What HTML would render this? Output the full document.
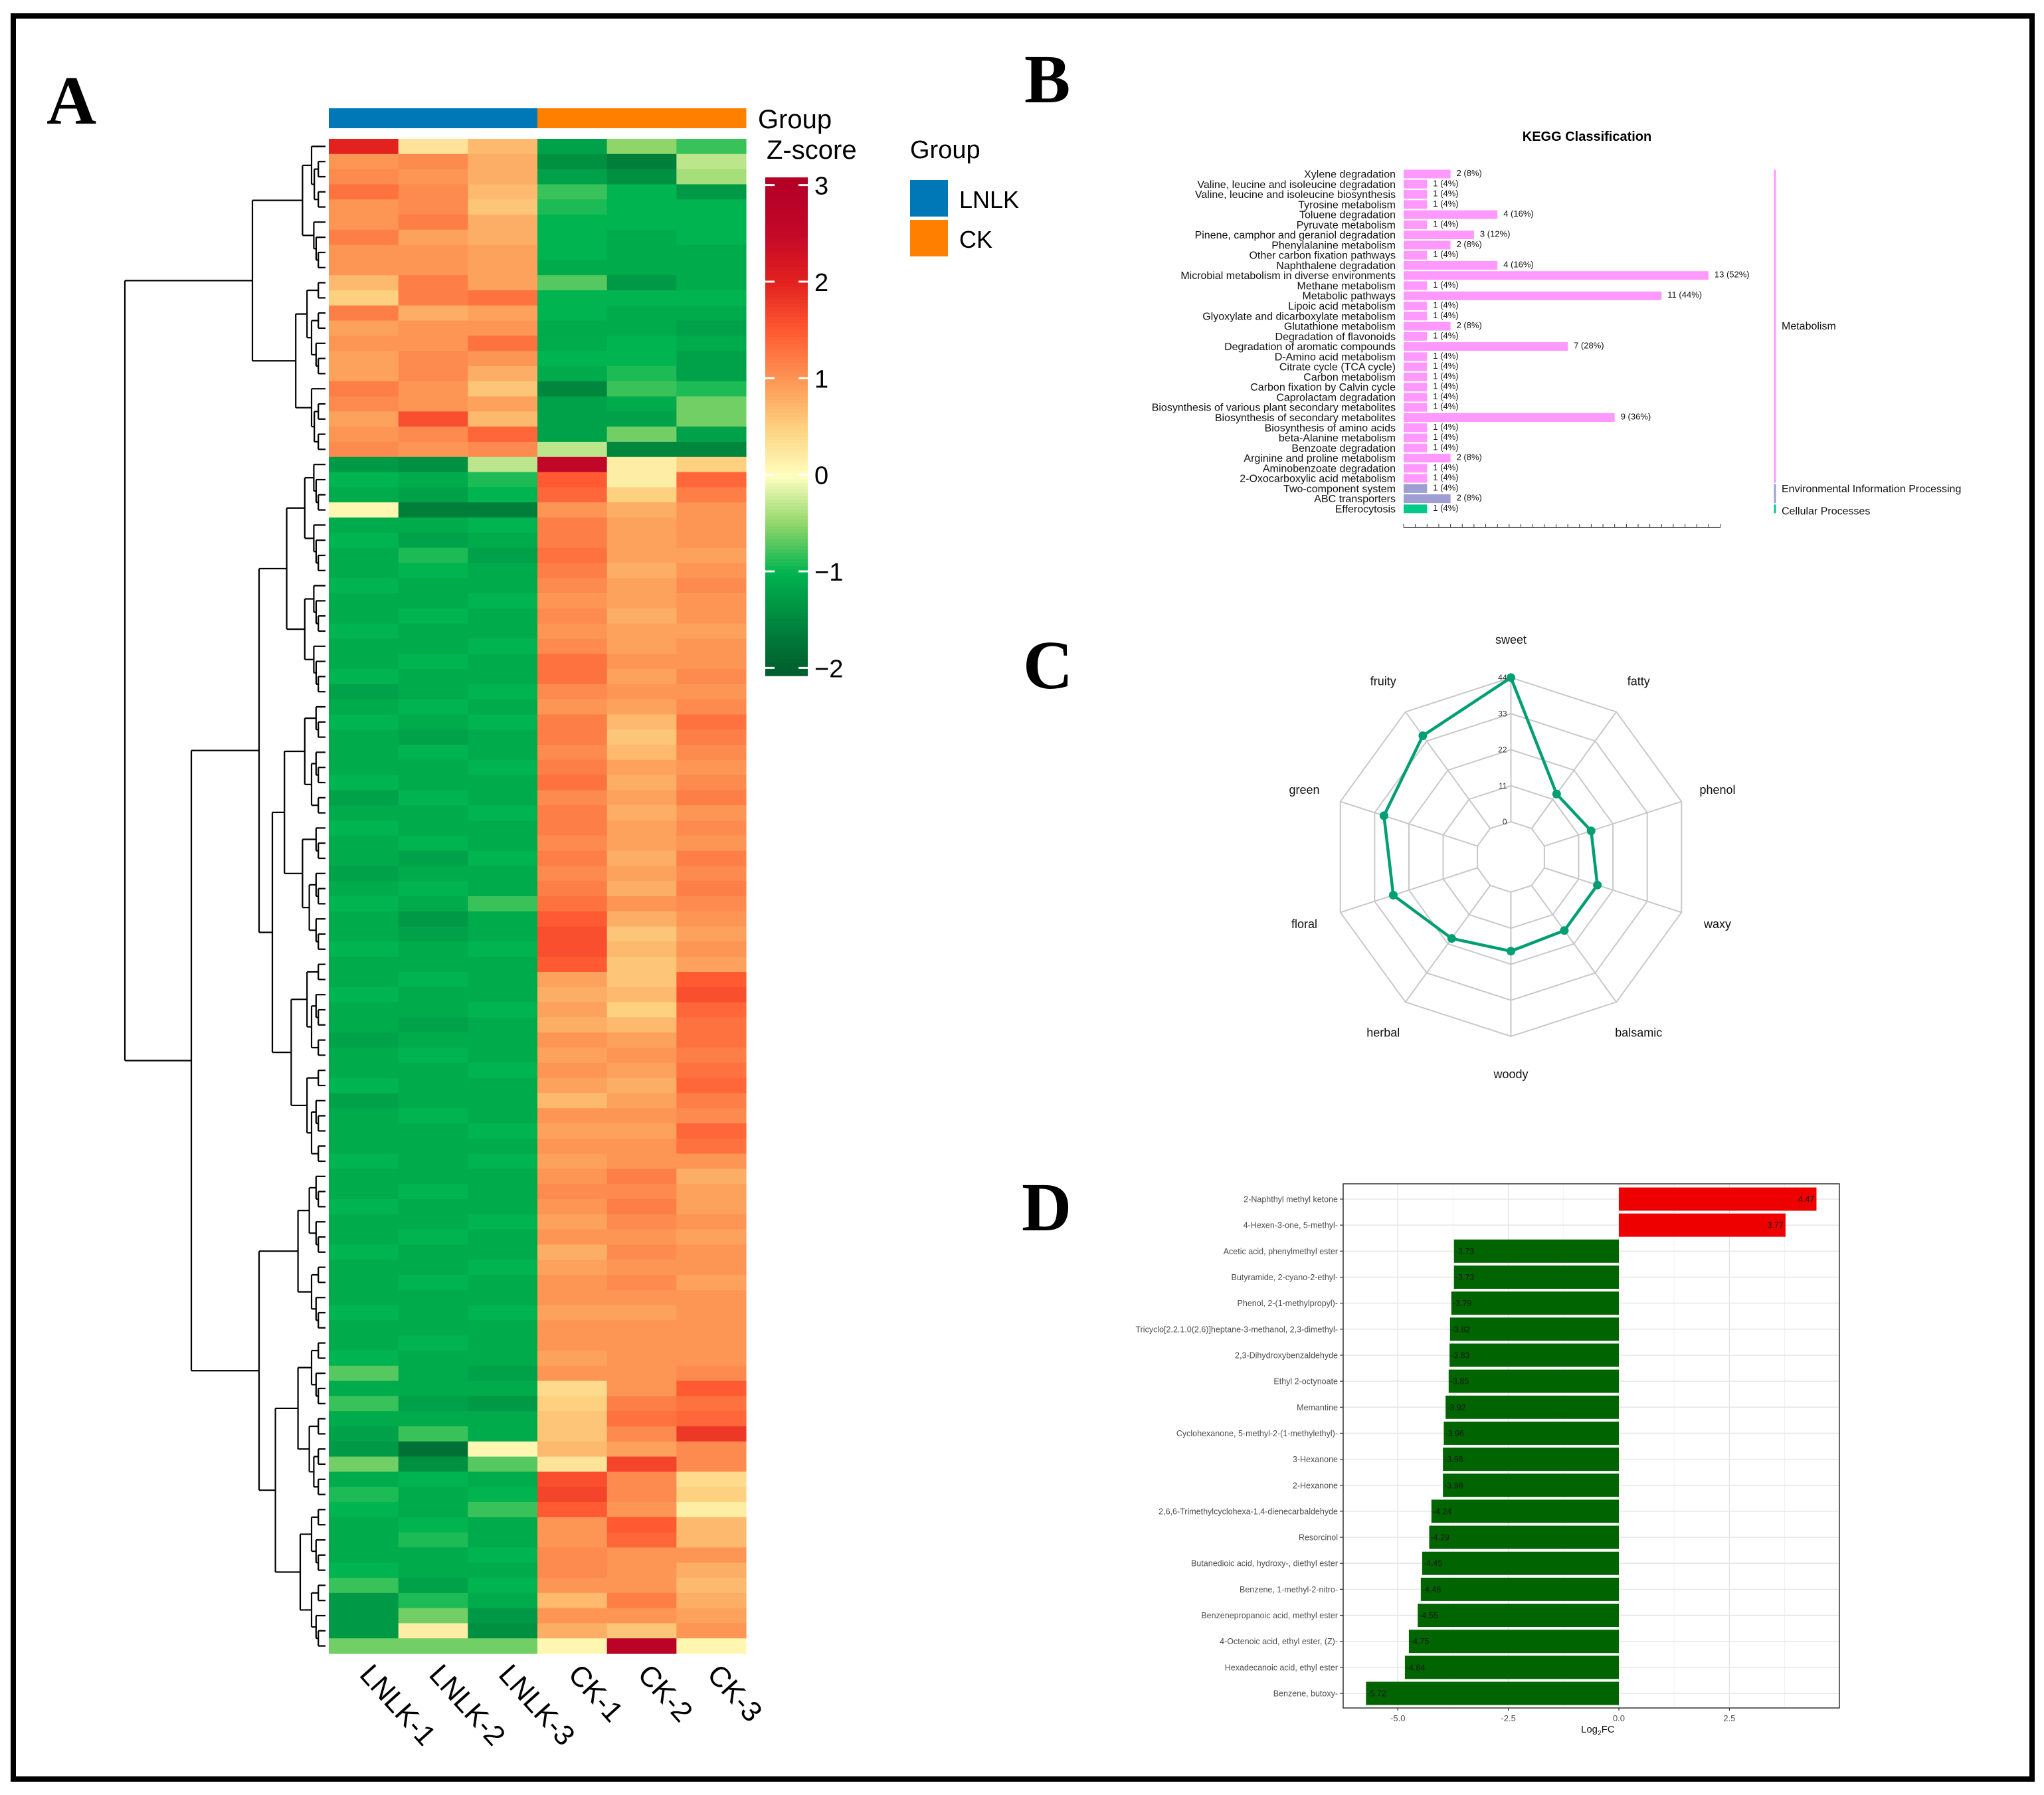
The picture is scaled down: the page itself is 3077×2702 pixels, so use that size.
<!DOCTYPE html>
<html><head><meta charset="utf-8"><style>
html,body{margin:0;padding:0;background:#fff}
svg{display:block}
text{font-family:"Liberation Sans",sans-serif}
.pl{font-family:"Liberation Serif",serif;font-weight:bold;font-size:104px}
</style></head><body>
<svg id="fig" width="3077" height="2702" viewBox="0 0 3077 2702" xmlns="http://www.w3.org/2000/svg">
<rect x="0" y="0" width="3077" height="2702" fill="#fff"/>
<rect x="20" y="24" width="3039" height="2654" fill="none" stroke="#000" stroke-width="8"/>
<text class="pl" x="70" y="186">A</text>
<text class="pl" x="1542" y="154">B</text>
<text class="pl" x="1540" y="1036">C</text>
<text class="pl" x="1538" y="1852">D</text>
<g id="heat"></g>
<g id="kegg"></g>
<g id="radar"></g>
<g id="fc"></g>
</svg>
<script>
// ---------- Heatmap data ----------
const sampleNames = ["LNLK-1","LNLK-2","LNLK-3","CK-1","CK-2","CK-3"];
const sampleGroups = ["LNLK","LNLK","LNLK","CK","CK","CK"];
const colorbarTicks = [3,2,1,0,-1,-2];
const zRows = [
[2.0,0.3,0.7,-1.2,-0.5,-0.8],[1.0,1.1,0.8,-1.4,-1.6,-0.3],[1.1,1.0,0.8,-1.2,-1.4,-0.4],[1.3,1.1,0.7,-0.8,-1.0,-1.3],
[1.0,1.1,0.6,-0.9,-1.0,-1.0],[1.0,1.2,0.8,-1.0,-1.0,-1.0],[1.2,0.9,0.8,-1.0,-1.1,-1.0],[1.0,1.0,0.9,-1.0,-1.1,-1.1],
[1.0,1.0,0.9,-1.1,-1.1,-1.1],[0.7,1.2,0.9,-0.7,-1.3,-1.1],[0.5,1.2,1.3,-1.0,-1.0,-1.0],[1.2,0.8,0.9,-1.0,-1.1,-1.1],
[0.9,1.0,1.0,-1.1,-1.1,-1.2],[1.0,1.0,1.3,-1.1,-1.0,-1.1],[0.9,1.1,1.0,-1.0,-1.0,-1.2],[0.9,1.1,0.8,-1.1,-0.9,-1.2],
[1.2,1.0,0.6,-1.5,-0.8,-0.9],[1.1,1.0,0.9,-1.2,-1.1,-0.6],[0.9,1.6,0.7,-1.2,-1.2,-0.6],[1.0,1.1,1.4,-1.2,-0.6,-1.2],
[1.1,1.0,1.1,-0.3,-1.5,-1.5],
[-1.3,-1.4,-0.3,2.6,0.2,0.5],[-1.0,-1.1,-0.9,1.5,0.2,1.4],[-1.1,-1.2,-1.0,1.4,0.5,1.2],[0.1,-1.6,-1.6,1.0,0.8,1.0],
[-1.1,-1.1,-1.0,1.2,0.9,1.0],[-1.0,-1.2,-1.1,1.2,0.9,1.0],[-1.1,-0.9,-1.2,1.3,0.9,0.9],[-1.1,-1.0,-1.1,1.2,0.8,1.0],
[-1.0,-1.1,-1.1,1.1,0.9,1.1],[-1.1,-1.1,-1.0,1.0,0.9,1.0],[-1.1,-1.0,-1.1,1.1,0.8,1.0],[-1.0,-1.1,-1.1,1.0,0.9,0.9],
[-1.1,-1.1,-1.0,1.1,0.9,1.0],[-1.1,-1.0,-1.1,1.3,1.0,1.0],[-1.0,-1.1,-1.1,1.3,0.9,1.1],[-1.2,-1.1,-1.0,1.1,1.0,1.0],
[-1.1,-1.0,-1.1,1.0,0.9,1.1],[-1.0,-1.1,-1.0,1.2,0.7,1.3],[-1.1,-1.2,-1.1,1.2,0.6,1.2],[-1.1,-1.0,-1.1,1.1,0.7,1.1],
[-1.1,-1.1,-1.0,1.2,0.9,1.0],[-1.0,-1.1,-1.1,1.3,0.8,1.1],[-1.2,-1.0,-1.1,1.1,0.9,1.2],[-1.1,-1.1,-1.0,1.2,0.8,1.0],
[-1.0,-1.1,-1.1,1.2,0.9,1.1],[-1.1,-1.0,-1.1,1.1,0.9,1.0],[-1.1,-1.2,-1.0,1.2,0.8,1.2],[-1.2,-1.1,-1.1,1.1,0.9,1.1],
[-1.1,-1.0,-1.1,1.2,0.8,1.2],[-1.0,-1.1,-0.8,1.3,1.0,1.1],[-1.1,-1.3,-1.1,1.5,0.8,1.0],[-1.1,-1.2,-1.1,1.6,0.6,0.9],
[-1.0,-1.1,-1.0,1.6,0.7,1.0],[-1.1,-1.1,-1.1,1.5,0.6,0.9],[-1.1,-1.0,-1.1,0.9,0.6,1.5],[-1.0,-1.1,-1.1,0.8,0.7,1.6],
[-1.1,-1.1,-1.0,0.9,0.5,1.4],[-1.1,-1.2,-1.1,0.8,0.7,1.3],[-1.2,-1.1,-1.1,1.0,0.9,1.3],[-1.1,-1.0,-1.1,0.9,1.0,1.2],
[-1.1,-1.1,-1.0,1.0,0.9,1.3],[-1.0,-1.1,-1.1,0.9,0.8,1.4],[-1.2,-1.1,-1.1,0.7,0.9,1.2],[-1.1,-1.0,-1.1,1.0,1.0,1.1],
[-1.1,-1.1,-1.0,0.9,0.9,1.4],[-1.1,-1.1,-1.1,1.0,1.0,1.3],[-1.0,-1.1,-1.0,0.9,1.0,1.0],[-1.1,-1.1,-1.1,1.0,1.2,0.8],
[-1.1,-1.0,-1.1,1.1,1.1,0.9],[-1.0,-1.1,-1.1,1.0,1.2,0.9],[-1.1,-1.1,-1.0,0.9,1.1,1.0],[-1.1,-1.0,-1.1,1.0,1.0,0.9],
[-1.0,-1.1,-1.1,0.8,1.1,1.0],[-1.1,-1.1,-1.0,0.9,1.0,1.0],[-1.1,-1.0,-1.1,1.0,1.1,0.9],[-1.1,-1.1,-1.1,1.0,1.0,1.0],
[-1.0,-1.1,-1.0,0.9,0.9,1.0],[-1.1,-1.1,-1.1,1.0,1.0,1.0],[-1.1,-1.0,-1.1,1.0,1.0,1.0],[-1.0,-1.1,-1.1,0.9,1.0,1.0],
[-0.7,-1.1,-1.2,1.0,1.0,1.1],[-1.1,-1.1,-1.1,0.4,1.0,1.5],[-0.8,-1.2,-1.3,0.5,1.2,1.3],[-1.1,-1.1,-1.1,0.6,1.3,1.4],
[-1.2,-0.8,-1.1,0.6,1.1,1.8],[-1.3,-1.8,0.1,0.7,0.9,1.1],[-0.6,-1.4,-0.7,0.3,1.7,1.1],[-1.1,-1.0,-1.1,1.6,1.1,0.4],
[-0.9,-1.1,-1.0,1.7,1.1,0.5],[-1.0,-1.1,-0.8,1.5,1.0,0.2],[-1.1,-1.0,-1.1,1.0,1.5,0.7],[-1.1,-0.9,-1.1,1.0,1.4,0.7],
[-1.1,-1.1,-1.0,1.1,1.0,1.0],[-1.0,-1.1,-1.1,1.1,1.0,0.8],[-0.8,-1.2,-1.0,1.0,1.0,0.7],[-1.3,-0.9,-1.1,0.7,1.2,0.8],
[-1.3,-0.6,-1.3,1.0,1.0,0.9],[-1.3,0.2,-1.4,0.8,0.6,1.0],[-0.6,-0.6,-0.6,0.1,2.8,0.1]
];
const topClusterSize = 21;

// ---------- KEGG data ----------
const keggTerms = ["Xylene degradation","Valine, leucine and isoleucine degradation","Valine, leucine and isoleucine biosynthesis","Tyrosine metabolism","Toluene degradation","Pyruvate metabolism","Pinene, camphor and geraniol degradation","Phenylalanine metabolism","Other carbon fixation pathways","Naphthalene degradation","Microbial metabolism in diverse environments","Methane metabolism","Metabolic pathways","Lipoic acid metabolism","Glyoxylate and dicarboxylate metabolism","Glutathione metabolism","Degradation of flavonoids","Degradation of aromatic compounds","D-Amino acid metabolism","Citrate cycle (TCA cycle)","Carbon metabolism","Carbon fixation by Calvin cycle","Caprolactam degradation","Biosynthesis of various plant secondary metabolites","Biosynthesis of secondary metabolites","Biosynthesis of amino acids","beta-Alanine metabolism","Benzoate degradation","Arginine and proline metabolism","Aminobenzoate degradation","2-Oxocarboxylic acid metabolism","Two-component system","ABC transporters","Efferocytosis"];
const keggCounts = [2,1,1,1,4,1,3,2,1,4,13,1,11,1,1,2,1,7,1,1,1,1,1,1,9,1,1,1,2,1,1,1,2,1];
const keggClass = ["M","M","M","M","M","M","M","M","M","M","M","M","M","M","M","M","M","M","M","M","M","M","M","M","M","M","M","M","M","M","M","E","E","C"];
const keggTotal = 25;

// ---------- Radar data ----------
const odorNames = ["sweet","fatty","phenol","waxy","balsamic","woody","herbal","floral","green","fruity"];
const odorCounts = [44,13,15,17,17,18,20,27,30,35];
const radarTicks = [0,11,22,33,44];

// ---------- Log2FC data ----------
const compounds = ["2-Naphthyl methyl ketone","4-Hexen-3-one, 5-methyl-","Acetic acid, phenylmethyl ester","Butyramide, 2-cyano-2-ethyl-","Phenol, 2-(1-methylpropyl)-","Tricyclo[2.2.1.0(2,6)]heptane-3-methanol, 2,3-dimethyl-","2,3-Dihydroxybenzaldehyde","Ethyl 2-octynoate","Memantine","Cyclohexanone, 5-methyl-2-(1-methylethyl)-","3-Hexanone","2-Hexanone","2,6,6-Trimethylcyclohexa-1,4-dienecarbaldehyde","Resorcinol","Butanedioic acid, hydroxy-, diethyl ester","Benzene, 1-methyl-2-nitro-","Benzenepropanoic acid, methyl ester","4-Octenoic acid, ethyl ester, (Z)-","Hexadecanoic acid, ethyl ester","Benzene, butoxy-"];
const log2fc = [4.47,3.77,-3.73,-3.73,-3.79,-3.82,-3.83,-3.85,-3.92,-3.96,-3.98,-3.98,-4.24,-4.29,-4.45,-4.48,-4.55,-4.75,-4.84,-5.72];
const fcTicks = [-5.0,-2.5,0.0,2.5];

const NS = "http://www.w3.org/2000/svg";
function mk(parent, tag, attrs, txt){
  const e = document.createElementNS(NS, tag);
  for (const k in attrs) e.setAttribute(k, attrs[k]);
  if (txt !== undefined) e.textContent = txt;
  parent.appendChild(e);
  return e;
}

// ===== Heatmap =====
(function(){
  const g = document.getElementById('heat');
  const X0 = 495, W = 628, Y0 = 209, H = 2280;
  const nC = sampleNames.length, nR = zRows.length;
  const cw = W / nC, rh = H / nR;
  const xCol = c => X0 + c * cw;
  const yRow = r => Y0 + r * rh;
  const stops = [[-2,[0,96,46]],[-1.5,[0,135,62]],[-1,[0,180,80]],[-0.5,[143,214,106]],[0,[255,255,191]],[0.5,[253,209,127]],[1,[253,150,85]],[1.5,[255,90,50]],[2,[227,34,31]],[2.5,[196,8,40]],[3,[181,0,38]]];
  function col(v){
    v = Math.max(-2, Math.min(3, v));
    for (let i=0;i<stops.length-1;i++){
      const a=stops[i], b=stops[i+1];
      if (v>=a[0] && v<=b[0]){
        const t=(v-a[0])/(b[0]-a[0]);
        const c=a[1].map((x,j)=>Math.round(x+(b[1][j]-x)*t));
        return `rgb(${c[0]},${c[1]},${c[2]})`;
      }
    }
    return 'rgb(181,0,38)';
  }
  const groupColor = {LNLK:'#0077b6', CK:'#ff8000'};
  sampleNames.forEach((s,c)=>{
    const gb = mk(g,'rect',{x:xCol(c),y:163,width:cw+0.5,height:30,fill:groupColor[sampleGroups[c]]});
    
    
  });
  zRows.forEach((row,r)=>{
    row.forEach((v,c)=>{
      const cell = mk(g,'rect',{x:xCol(c),y:yRow(r),width:cw+0.6,height:rh+0.6,fill:col(v)});
      
      
    });
  });
  const gt = mk(g,'text',{x:1141,y:193,'font-size':40},'Group');
  
  
  const zt = mk(g,'text',{x:1154,y:239,'font-size':40},'Z-score');
  
  
  const cbTop = 267, cbBot = 1017, vTop = 3.08, vBot = -2.08;
  const yCb = v => cbTop + (vTop - v) / (vTop - vBot) * (cbBot - cbTop);
  for (let i=0;i<150;i++){
    const v1 = vTop - i*(vTop-vBot)/150;
    const seg = mk(g,'rect',{x:1152,y:yCb(v1),width:64,height:(cbBot-cbTop)/150+0.8,fill:col(v1)});
    
    
  }
  colorbarTicks.forEach(t=>{
    const y = yCb(t);
    mk(g,'line',{x1:1152,x2:1166,y1:y,y2:y,stroke:'#fff','stroke-width':3});
    mk(g,'line',{x1:1202,x2:1216,y1:y,y2:y,stroke:'#fff','stroke-width':3});
    const tl = mk(g,'text',{x:1226,y:y+14,'font-size':38},(t<0?'\u2212':'')+Math.abs(t));
    
    
  });
  const lt = mk(g,'text',{x:1370,y:238,'font-size':38},'Group');
  
  
  [['LNLK',271],['CK',331]].forEach(([n,y])=>{
    const sw = mk(g,'rect',{x:1370,y:y,width:57,height:55,fill:groupColor[n]});
    
    
    const tx = mk(g,'text',{x:1444,y:y+42,'font-size':36},n);
    
    
  });
  sampleNames.forEach((s,c)=>{
    const cx = xCol(c)+cw/2 - 8, cy = 2522;
    const t = mk(g,'text',{x:cx,y:cy,'font-size':43,transform:`rotate(48 ${cx} ${cy})`},s);
    
    
  });
  const leafX = 490;
  const ratios = [0.45,0.6,0.35,0.55,0.5,0.4,0.65];
  const rowC = r => yRow(r) + rh/2;
  const line = (x1,y1,x2,y2)=>mk(g,'line',{x1,y1,x2,y2,stroke:'#000','stroke-width':2.2});
  function hOf(size){ return size<=1?0:Math.min(4+3.4*size, 100); }
  function node(lo,hi,x,depth){
    if (lo===hi){ line(x,rowC(lo),leafX,rowC(lo)); return rowC(lo); }
    const size = hi-lo+1;
    let m = lo + Math.max(0, Math.min(size-2, Math.floor(size*ratios[depth%ratios.length])-1));
    const s1 = m-lo+1, s2 = hi-m;
    const x1 = leafX - Math.min(hOf(s1), (leafX-x)*0.85);
    const x2 = leafX - Math.min(hOf(s2), (leafX-x)*0.8);
    const ya = child(lo,m,x1,depth+1), yb = child(m+1,hi,x2,depth+1);
    line(x,ya,x,yb);
    return (ya+yb)/2;
    function child(a,b,cx,d){ const y = node(a,b,cx,d); line(x,y,cx,y); return y; }
  }
  const n1 = topClusterSize - 1;
  const yTop = node(0,n1,380,0);
  const yBot = node(n1+1,nR-1,288,1);
  line(188,yTop,380,yTop); line(188,yBot,288,yBot); line(188,yTop,188,yBot);
})();

// ===== KEGG =====
(function(){
  const g = document.getElementById('kegg');
  const X0 = 2113, perCount = 35.3, Y0 = 262, step = 15.27, bh = 13;
  const xv = v => X0 + v*perCount;
  const yr = i => Y0 + i*step;
  const colors = {M:'#ff99ff',E:'#9e9ed2',C:'#00c98a'};
  const t = mk(g,'text',{x:2389,y:212,'font-size':20,'font-weight':'bold','text-anchor':'middle'},'KEGG Classification');
  
  
  keggTerms.forEach((term,i)=>{
    const y = yr(i);
    const lb = mk(g,'text',{x:2101,y:y+5.5,'font-size':16,'text-anchor':'end',fill:'#111'},term);
    
    
    const b = mk(g,'rect',{x:X0,y:y-bh/2,width:xv(keggCounts[i])-X0,height:bh,fill:colors[keggClass[i]]});
    
    
    const pct = Math.round(keggCounts[i]/keggTotal*100);
    const vl = mk(g,'text',{x:xv(keggCounts[i])+9,y:y+3,'font-size':13,fill:'#111'},`${keggCounts[i]} (${pct}%)`);
    
    
  });
  const ax = mk(g,'line',{x1:X0,x2:2590,y1:794,y2:794,stroke:'#333','stroke-width':1.5});
  
  
  for (let k=0;k<=27;k++){ const x=X0+k*perCount/2; mk(g,'line',{x1:x,x2:x,y1:789,y2:794,stroke:'#333','stroke-width':1}); }
  const classes = [['M','Metabolism'],['E','Environmental Information Processing'],['C','Cellular Processes']];
  classes.forEach(([k,name])=>{
    const idx = keggClass.map((c,i)=>c===k?i:-1).filter(i=>i>=0);
    const ya = yr(idx[0])-bh/2, yb = yr(idx[idx.length-1])+bh/2;
    const br = mk(g,'line',{x1:2672,x2:2672,y1:ya,y2:yb,stroke:colors[k],'stroke-width':3});
    
    
    const ty = k==='M' ? (ya+yb)/2+5 : (k==='E' ? ya+12 : yb+2);
    const cl = mk(g,'text',{x:2682,y:ty,'font-size':16,fill:'#111'},name);
    
    
  });
})();

// ===== Radar =====
(function(){
  const g = document.getElementById('radar');
  const cx = 2274.5, cy = 1290, r0 = 53, r1 = 270, vmax = 44;
  const rv = v => r0 + v/vmax*(r1-r0);
  const n = odorNames.length;
  const ang = i => i*2*Math.PI/n;
  const pt = (r,i)=>[cx + r*Math.sin(ang(i)), cy - r*Math.cos(ang(i))];
  radarTicks.forEach(t=>{
    const pts = odorNames.map((_,i)=>pt(rv(t),i).join(',')).join(' ');
    const ring = mk(g,'polygon',{points:pts,fill:'none',stroke:'#c8c8c8','stroke-width':2});
    
    
    const tl = mk(g,'text',{x:cx-6,y:cy-rv(t)+4,'font-size':12,'text-anchor':'end',fill:'#333'},String(t));
    
    
  });
  odorNames.forEach((nm,i)=>{
    const [xa,ya] = pt(r0,i), [xb,yb] = pt(r1,i);
    const sp = mk(g,'line',{x1:xa,y1:ya,x2:xb,y2:yb,stroke:'#c8c8c8','stroke-width':2});
    
    
    const [lx,ly] = pt(327,i);
    const lb = mk(g,'text',{x:lx,y:ly+6,'font-size':18,'text-anchor':'middle',fill:'#111'},nm);
    
    
  });
  const pts = odorCounts.map((v,i)=>pt(rv(v),i).join(',')).join(' ');
  const poly = mk(g,'polygon',{points:pts,fill:'none',stroke:'#009e73','stroke-width':4.5,'stroke-linejoin':'round'});
  
  
  odorCounts.forEach((v,i)=>{
    const [x,y] = pt(rv(v),i);
    const d = mk(g,'circle',{cx:x,cy:y,r:6.5,fill:'#009e73'});
    
    
  });
})();

// ===== Log2FC bars =====
(function(){
  const g = document.getElementById('fc');
  const L = 2022, R = 2769, T = 1782, B = 2571;
  const x0 = 2437, perUnit = 66.55;
  const xv = v => x0 + v*perUnit;
  const Y0 = 1805, step = 39.16, bh = 35;
  const yr = i => Y0 + i*step;
  const minor = [-6.25,-3.75,-1.25,1.25,3.75];
  minor.forEach(v=>mk(g,'line',{x1:xv(v),x2:xv(v),y1:T,y2:B,stroke:'#f2f2f2','stroke-width':1}));
  fcTicks.forEach(v=>mk(g,'line',{x1:xv(v),x2:xv(v),y1:T,y2:B,stroke:'#e6e6e6','stroke-width':1.5}));
  compounds.forEach((_,i)=>mk(g,'line',{x1:L,x2:R,y1:yr(i),y2:yr(i),stroke:'#e6e6e6','stroke-width':1.5}));
  log2fc.forEach((v,i)=>{
    const y = yr(i);
    const xa = Math.min(xv(0),xv(v)), w = Math.abs(xv(v)-xv(0));
    const b = mk(g,'rect',{x:xa,y:y-bh/2,width:w,height:bh,fill:v>0?'#ee0000':'#006400'});
    
    
    const vl = mk(g,'text',{x:v>0?xv(v)-3:xv(v)+2,y:y+4.5,'font-size':12.5,'text-anchor':v>0?'end':'start',fill:'#1a1a1a'},v.toFixed(2));
    
    
    const lb = mk(g,'text',{x:2014,y:y+4.5,'font-size':12.5,'text-anchor':'end',fill:'#4d4d4d'},compounds[i]);
    
    
    mk(g,'line',{x1:2017,x2:L,y1:y,y2:y,stroke:'#333','stroke-width':1.2});
  });
  const frame = mk(g,'rect',{x:L,y:T,width:R-L,height:B-T,fill:'none',stroke:'#333','stroke-width':1.5});
  
  
  fcTicks.forEach(v=>{
    mk(g,'line',{x1:xv(v),x2:xv(v),y1:B,y2:B+4,stroke:'#333','stroke-width':1.2});
    const tl = mk(g,'text',{x:xv(v),y:2591,'font-size':13,'text-anchor':'middle',fill:'#4d4d4d'},v.toFixed(1));
    
    
  });
  const at = mk(g,'text',{x:2380,y:2608,'font-size':15,fill:'#111'});
  
  
  mk(at,'tspan',{},'Log');
  mk(at,'tspan',{'font-size':10,dy:4},'2');
  mk(at,'tspan',{dy:-4},'FC');
})();
</script>
</body></html>
